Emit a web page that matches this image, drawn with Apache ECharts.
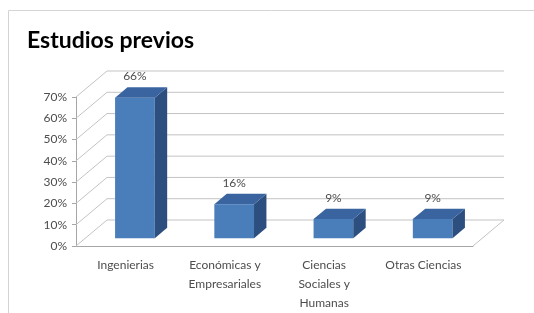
<!DOCTYPE html>
<html>
<head>
<meta charset="utf-8">
<script src="https://cdn.jsdelivr.net/npm/echarts@6/dist/echarts.min.js"></script>
<style>
  html, body { margin: 0; padding: 0; background: #fff; }
  #chart { width: 534px; height: 313px; }
</style>
</head>
<body>
<div id="chart"></div>
<script>
// datos del gráfico
var categories = ["Ingenierias", "Económicas y\nEmpresariales", "Ciencias\nSociales y\nHumanas", "Otras Ciencias"];
var values = [66, 16, 9, 9];
var yTicks = [0, 10, 20, 30, 40, 50, 60, 70];

(function() {
  var myChart = echarts.init(document.getElementById("chart"));

  // profundidad del efecto 3D
  var DX = 31, DY = -26;
  var F1 = 0.3, F2 = 0.7; // posición de la barra en la profundidad
  var gridColor = "#c3c3c3";

  // paredes y líneas de fondo
  function renderWalls(params, api) {
    var cs = params.coordSys;
    var y = api.coord([0, api.value(1)])[1];
    var x0 = cs.x, x1 = cs.x + cs.width;
    var children = [{
      type: "polyline",
      shape: { points: [[x0, y], [x0 + DX, y + DY], [x1 + DX, y + DY]] },
      style: { stroke: gridColor, lineWidth: 1, fill: null }
    }];
    if (api.value(1) === 0) {
      children.push({
        type: "polyline",
        shape: { points: [[x1, y], [x1 + DX, y + DY]] },
        style: { stroke: gridColor, lineWidth: 1, fill: null }
      });
    }
    return { type: "group", children: children };
  }

  // barras 3D
  function renderBar(params, api) {
    var top = api.coord([api.value(0), api.value(1)]);
    var base = api.coord([api.value(0), 0]);
    var w = api.size([1, 0])[0] * 0.4;
    var xl = top[0] - w / 2 + F1 * DX, xr = xl + w;
    var yt = top[1] + F1 * DY, yb = base[1] + F1 * DY;
    var ddx = (F2 - F1) * DX, ddy = (F2 - F1) * DY;
    return {
      type: "group",
      children: [
        {
          type: "rect",
          shape: { x: xl, y: yt, width: w, height: yb - yt },
          style: { fill: "#4a7ebb" }
        },
        {
          type: "polygon",
          shape: { points: [[xr, yt], [xr + ddx, yt + ddy], [xr + ddx, yb + ddy], [xr, yb]] },
          style: { fill: "#2c4f7f" }
        },
        {
          type: "polygon",
          shape: { points: [[xl, yt], [xl + ddx, yt + ddy], [xr + ddx, yt + ddy], [xr, yt]] },
          style: { fill: "#3a64a0" }
        },
        {
          type: "text",
          style: {
            text: api.value(1) + "%",
            x: top[0] + F1 * DX,
            y: yt + ddy - 5,
            align: "center",
            verticalAlign: "bottom",
            fill: "#4d4d4d",
            font: "12px Lato"
          }
        }
      ]
    };
  }

  var option = {
    animation: false,
    textStyle: { fontFamily: "Lato" },
    title: {
      text: "Estudios previos",
      left: 22,
      top: 24,
      textStyle: { fontFamily: "Lato", fontSize: 23, fontWeight: "bold", color: "#000" }
    },
    graphic: [{
      type: "rect",
      shape: { x: 8.5, y: 10.5, width: 560, height: 340 },
      style: { fill: null, stroke: "#d4d4d4", lineWidth: 1 },
      silent: true
    }],
    grid: { left: 76, right: 61, top: 97, bottom: 67 },
    xAxis: {
      type: "category",
      data: categories,
      axisLine: { lineStyle: { color: "#a6a6a6" } },
      axisTick: { length: 4, lineStyle: { color: "#a6a6a6" } },
      axisLabel: { color: "#4d4d4d", fontSize: 12, lineHeight: 19, margin: 10, interval: 0 }
    },
    yAxis: {
      type: "value",
      min: 0,
      max: 70,
      interval: 10,
      axisLine: { show: true, lineStyle: { color: "#a6a6a6" } },
      axisTick: { show: true, length: 4, lineStyle: { color: "#a6a6a6" } },
      axisLabel: { color: "#4d4d4d", fontSize: 12, margin: 9, formatter: "{value}%" },
      splitLine: { show: false }
    },
    series: [
      {
        type: "custom",
        renderItem: renderWalls,
        data: yTicks.map(function(v) { return [0, v]; }),
        silent: true,
        z: 1
      },
      {
        type: "custom",
        renderItem: renderBar,
        data: values.map(function(v, i) { return [i, v]; }),
        z: 2
      }
    ]
  };

  myChart.setOption(option);
  window.addEventListener("resize", function() {
    myChart.resize();
  });
})();
</script>
</body>
</html>
